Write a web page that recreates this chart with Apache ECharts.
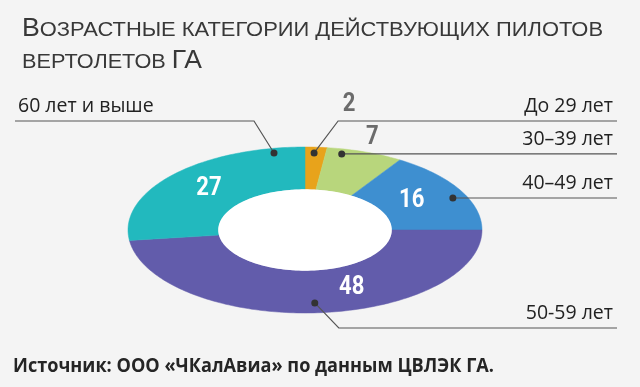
<!DOCTYPE html>
<html><head><meta charset="utf-8">
<script src="https://cdn.jsdelivr.net/npm/echarts@6/dist/echarts.min.js"></script>
<style>html,body{margin:0;padding:0;background:#f4f4f4}#c{width:640px;height:387px}</style>
</head><body><div id="c"></div>
<script>
// ---- data ----
const categories = ['До 29 лет', '30–39 лет', '40–49 лет', '50-59 лет', '60 лет и выше'];
const values = [2, 7, 16, 48, 27];
const colors = ['#e8a31b', '#b8d67c', '#3e8fd0', '#625cab', '#22b9be'];
const titleLine1 = [['В', 'big'], ['ОЗРАСТНЫЕ КАТЕГОРИИ ДЕЙСТВУЮЩИХ ПИЛОТОВ', 'small']];
const titleLine2 = [['ВЕРТОЛЕТОВ ', 'small'], ['ГА', 'big']];
const sourceText = 'Источник: ООО «ЧКалАвиа» по данным ЦВЛЭК ГА.';

// ---- layout / style ----
const G = { cx: 305, cy: 230, rx: 177, ry: 83, inner: 0.49 };
// per-slice annotation placement: fraction along slice angle, radius (unit = outer radius)
const ann = [
  { num: { f: 1.3, r: 1.53, c: '#6b6b6b' }, dot: { f: 0.44, r: 0.93 }, lineY: 121, elbowDx: 24, side: 'right' },
  { num: { f: 0.46, r: 1.18, c: '#6b6b6b' }, dot: { f: 0.22, r: 0.94 }, lineY: null, elbowDx: 0, side: 'right' },
  { num: { f: 0.47, r: 0.70, c: '#ffffff' }, dot: { f: 0.57, r: 0.92 }, lineY: null, elbowDx: 0, side: 'right' },
  { num: { f: 0.40, r: 0.74, c: '#ffffff' }, dot: { f: 0.50, r: 0.88 }, lineY: 328, elbowDx: 24, side: 'right' },
  { num: { f: 0.51, r: 0.735, c: '#ffffff' }, dot: { f: 0.89, r: 0.944 }, lineY: 121, elbowDx: -20, side: 'left' }
];
const RIGHT_END = 617, LEFT_END = 15;
const NUM_FONT = 'bold 26px Roboto';
const CAT_SIZE = 19.5;
const CAT_FONT = CAT_SIZE + 'px "Open Sans"';

const total = values.reduce((a, b) => a + b, 0);
const starts = values.map((v, i) => values.slice(0, i).reduce((a, b) => a + b, 0));
function pt(a, r) { return [G.cx + G.rx * r * Math.sin(a), G.cy - G.ry * r * Math.cos(a)]; }
function angAt(i, f) { return 2 * Math.PI * (starts[i] + values[i] * f) / total; }

const measCtx = document.createElement('canvas').getContext('2d');
function measure(text, font) { measCtx.font = font; return measCtx.measureText(text).width; }

function midY(baseline, size, k) { return baseline - k * size; }

function titleGroup(segs, x, baseline, targetW) {
  const fonts = { big: { size: 25 }, small: { size: 20.5 } };
  let cx = 0; const children = [];
  segs.forEach(([t, k]) => {
    const size = fonts[k].size;
    const font = size + 'px "Liberation Sans"';
    children.push({ type: 'text', x: cx, y: midY(0, size, 0.35), style: { text: t, font: font, fill: '#383838', verticalAlign: 'middle', align: 'left' } });
    cx += measure(t, font);
  });
  const s = targetW ? targetW / cx : 1;
  return { type: 'group', x: x, y: baseline, scaleX: s, children: children };
}

const chart = echarts.init(document.getElementById('c'));
const srcFont = 'bold 19px "Open Sans"';
const srcW = measure(sourceText, srcFont);

chart.setOption({
  backgroundColor: '#f4f4f4',
  animation: false,
  graphic: [
    titleGroup(titleLine1, 22, 38, 581),
    titleGroup(titleLine2, 22, 70, 180),
    { type: 'text', x: 13, y: midY(373, 19, 0.36), scaleX: 481 / srcW, style: { text: sourceText, font: srcFont, fill: '#252525', verticalAlign: 'middle' } }
  ],
  series: [
    {
      type: 'custom', coordinateSystem: 'none', silent: true,
      data: values.map(v => [v]),
      renderItem: function (params, api) {
        const i = params.dataIndex;
        const a0 = angAt(i, 0), a1 = angAt(i, 1);
        const n = Math.max(8, Math.ceil((a1 - a0) / 0.02));
        const pts = [];
        for (let k = 0; k <= n; k++) pts.push(pt(a0 + (a1 - a0) * k / n, 1));
        for (let k = n; k >= 0; k--) pts.push(pt(a0 + (a1 - a0) * k / n, G.inner));
        return { type: 'polygon', shape: { points: pts }, style: { fill: colors[i], stroke: colors[i], lineWidth: 0.5 } };
      }
    },
    {
      type: 'custom', coordinateSystem: 'none', silent: true, z: 3,
      data: values.map(v => [v]),
      renderItem: function (params, api) {
        const i = params.dataIndex;
        const v = api.value(0);
        const A = ann[i];
        const children = [];
        if (i === 0) {
          const hole = [];
          for (let k = 0; k < 180; k++) hole.push(pt(2 * Math.PI * k / 180, G.inner));
          children.push({ type: 'polygon', shape: { points: hole }, style: { fill: '#ffffff' } });
        }
        const np = pt(angAt(i, A.num.f), A.num.r);
        children.push({ type: 'text', x: np[0], y: np[1], scaleX: 0.85,
          style: { text: String(v), font: NUM_FONT, fill: A.num.c, align: 'center', verticalAlign: 'middle' } });
        const dp = pt(angAt(i, A.dot.f), A.dot.r);
        const ly = A.lineY == null ? dp[1] : A.lineY;
        const endX = A.side === 'right' ? RIGHT_END : LEFT_END;
        const linePts = [dp];
        if (A.lineY != null) linePts.push([dp[0] + A.elbowDx, ly]);
        linePts.push([endX, ly]);
        children.push({ type: 'polyline', shape: { points: linePts }, style: { stroke: '#555', lineWidth: 1.2, fill: null } });
        children.push({ type: 'circle', shape: { cx: dp[0], cy: dp[1], r: 3.5 }, style: { fill: '#333' } });
        children.push({ type: 'text', x: A.side === 'right' ? RIGHT_END - 4 : LEFT_END + 3, y: midY(ly - 7, CAT_SIZE, 0.39),
          style: { text: categories[i], font: CAT_FONT, fill: '#222', align: A.side === 'right' ? 'right' : 'left', verticalAlign: 'middle' } });
        return { type: 'group', children: children };
      }
    }
  ]
});
</script></body></html>
